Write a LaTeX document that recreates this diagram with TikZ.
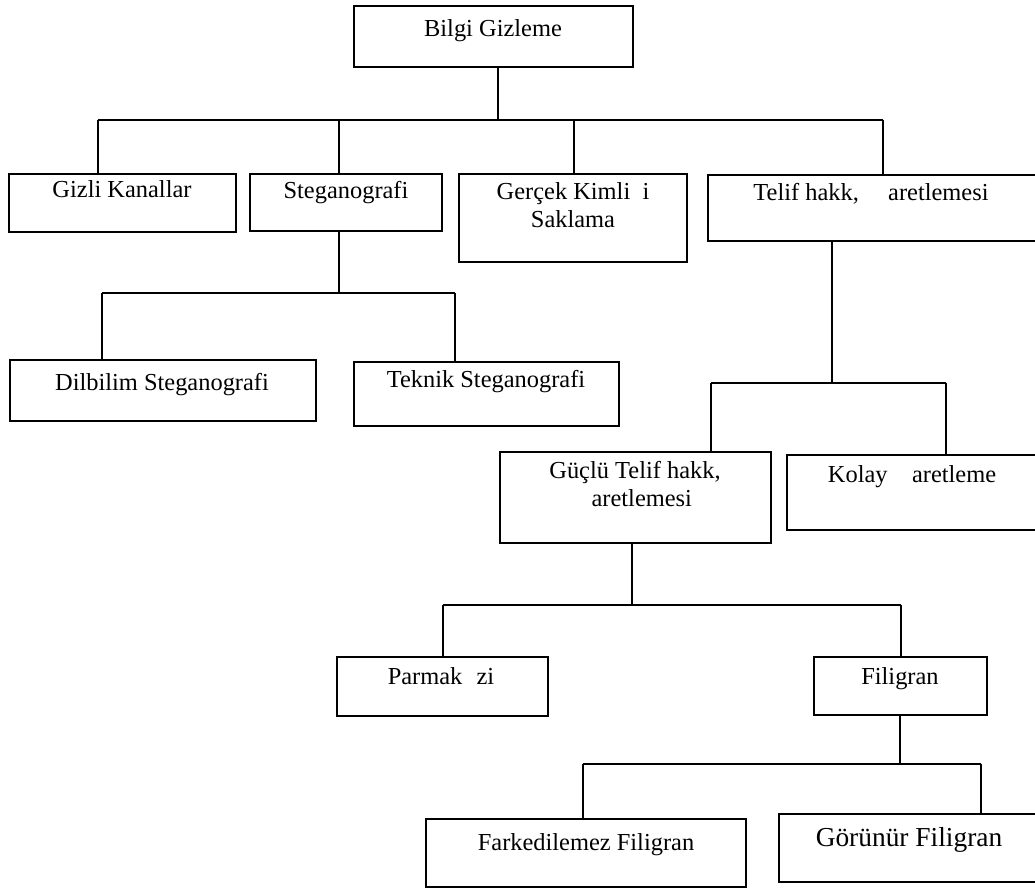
\documentclass[tikz,border=0pt]{standalone}
\usepackage{fontspec}
\setmainfont{Liberation Serif}
\usetikzlibrary{positioning,fit}

\tikzset{
  kutu/.style={draw, line width=0.85pt, inner sep=0pt},
  yazi/.style={anchor=base, inner sep=0pt, align=center, font=\fontsize{13.9}{16.5}\selectfont},
  hat/.style={line width=0.85pt},
  bara/.style={line width=1.1pt},
}

\begin{document}
\begin{tikzpicture}[x=0.02cm, y=-0.02cm]
    \useasboundingbox (0,0) rectangle (1035,888);

    % Boxes
    \node[kutu, fit={(354,6) (633,67)}] (bilgi) {};
    \node[kutu, fit={(9,174) (236,232)}] (gizli) {};
    \node[kutu, fit={(250,174) (442,231)}] (stegano) {};
    \node[kutu, fit={(459,174) (687,262)}] (gercek) {};
    \node[kutu, fit={(708,175) (1037,241)}] (telif) {};
    \node[kutu, fit={(10,360) (316,421)}] (dilbilim) {};
    \node[kutu, fit={(354,362) (619,426)}] (teknik) {};
    \node[kutu, fit={(500,452) (771,543)}] (guclu) {};
    \node[kutu, fit={(787,455) (1037,530)}] (kolay) {};
    \node[kutu, fit={(337,657) (548,716)}] (parmak) {};
    \node[kutu, fit={(814,657) (987,715)}] (filigran) {};
    \node[kutu, fit={(426,819) (746,887)}] (fark) {};
    \node[kutu, fit={(779,814) (1037,882)}] (gorunur) {};

    % Labels (base of last line)
    \node[yazi] (bilgi-t) at (493,37) {Bilgi Gizleme};
    \node[yazi] (gizli-t) at (122,198) {Gizli Kanallar};
    \node[yazi] (stegano-t) at (346,199) {Steganografi};
    \node[yazi] (gercek-t) at (573,228) {Gerçek Kimli\hphantom{ğ}i\\Saklama};
    \node[yazi] (telif-t) at (871,201) {Telif hakk,\hspace{1.2em}aretlemesi};
    \node[yazi] (dilbilim-t) at (162,391) {Dilbilim Steganografi};
    \node[yazi] (teknik-t) at (486,388) {Teknik Steganografi};
    \node[yazi] (guclu-t) at (635,507) {Güçlü Telif hakk,\\\hphantom{Ş}aretlemesi};
    \node[yazi] (kolay-t) at (912,482) {Kolay\hspace{1em}aretleme};
    \node[yazi] (parmak-t) at (441,684) {Parmak\hspace{0.58em}zi};
    \node[yazi] (filigran-t) at (900,684) {Filigran};
    \node[yazi] (fark-t) at (586,850) {Farkedilemez Filigran};
    \node[yazi, font=\fontsize{15.6}{18}\selectfont] (gorunur-t) at (909,846) {Görünür Filigran};

    % Bilgi Gizleme branches
    \coordinate (b1m) at (498,120);
    \coordinate (b1a) at (98,120);
    \coordinate (b1b) at (339,120);
    \coordinate (b1c) at (574,120);
    \coordinate (b1d) at (883,120);
    \draw[hat] (bilgi.south -| b1m) -- (b1m);
    \draw[bara] (b1a) -- (b1d);
    \foreach \c/\n in {b1a/gizli, b1b/stegano, b1c/gercek, b1d/telif}
        \draw[hat] (\c) -- (\c |- \n.north);

    % Steganografi branches
    \coordinate (b2m) at (339,293);
    \coordinate (b2a) at (102,293);
    \coordinate (b2b) at (455,293);
    \draw[hat] (stegano.south -| b2m) -- (b2m);
    \draw[bara] (b2a) -- (b2b);
    \foreach \c/\n in {b2a/dilbilim, b2b/teknik}
        \draw[hat] (\c) -- (\c |- \n.north);

    % Telif branches
    \coordinate (b3m) at (832,383);
    \coordinate (b3a) at (711,383);
    \coordinate (b3b) at (946,383);
    \draw[hat] (telif.south -| b3m) -- (b3m);
    \draw[bara] (b3a) -- (b3b);
    \foreach \c/\n in {b3a/guclu, b3b/kolay}
        \draw[hat] (\c) -- (\c |- \n.north);

    % Guclu branches
    \coordinate (b4m) at (632,605);
    \coordinate (b4a) at (443,605);
    \coordinate (b4b) at (901,605);
    \draw[hat] (guclu.south -| b4m) -- (b4m);
    \draw[bara] (b4a) -- (b4b);
    \foreach \c/\n in {b4a/parmak, b4b/filigran}
        \draw[hat] (\c) -- (\c |- \n.north);

    % Filigran branches
    \coordinate (b5m) at (900,764);
    \coordinate (b5a) at (583,764);
    \coordinate (b5b) at (981,764);
    \draw[hat] (filigran.south -| b5m) -- (b5m);
    \draw[bara] (b5a) -- (b5b);
    \foreach \c/\n in {b5a/fark, b5b/gorunur}
        \draw[hat] (\c) -- (\c |- \n.north);
\end{tikzpicture}
\end{document}
